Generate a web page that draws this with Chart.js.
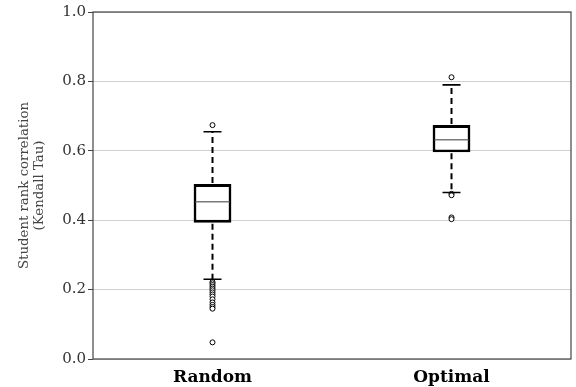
<!DOCTYPE html>
<html lang="en">
<head>
  <meta charset="UTF-8">
  <title>Kendall Tau box plot</title>
  <style>
    html, body { margin: 0; padding: 0; background: #fff; }
    #wrap { width: 576px; height: 387px; }
  </style>
</head>
<body>
<div id="wrap"><canvas id="boxChart" width="576" height="387"></canvas></div>
<script src="https://cdn.jsdelivr.net/npm/chart.js"></script>
<script>
  // data
  const categories = ['Random', 'Optimal'];
  const whiskerLow = [0.230, 0.480];
  const q1 = [0.393, 0.596];
  const median = [0.453, 0.632];
  const q3 = [0.504, 0.674];
  const whiskerHigh = [0.655, 0.790];
  const outliersRandom = [0.674, 0.222, 0.218, 0.213, 0.208, 0.203, 0.198, 0.192, 0.186, 0.180, 0.172, 0.163, 0.156, 0.150, 0.145, 0.048];
  const outliersOptimal = [0.812, 0.476, 0.472, 0.408, 0.403];
  const yTicks = [0.0, 0.2, 0.4, 0.6, 0.8, 1.0];

  const serif = "'DejaVu Serif', 'Liberation Serif', serif";

  const outlierPoints = [];
  outliersRandom.forEach(v => outlierPoints.push({ x: categories[0], y: v }));
  outliersOptimal.forEach(v => outlierPoints.push({ x: categories[1], y: v }));

  // whiskers, caps and medians drawn from the scales
  const boxExtras = {
    id: 'boxExtras',
    afterDatasetsDraw(chart) {
      const ctx = chart.ctx;
      const xs = chart.scales.x, ys = chart.scales.y;
      ctx.save();
      categories.forEach((c, i) => {
        const x = xs.getPixelForValue(i);
        const capHalf = 9;
        const bar = chart.getDatasetMeta(0).data[i];
        ctx.strokeStyle = '#000';
        ctx.lineWidth = 2;
        ctx.setLineDash([6, 4]);
        ctx.beginPath();
        ctx.moveTo(x, bar.y - 1);
        ctx.lineTo(x, ys.getPixelForValue(whiskerHigh[i]));
        ctx.moveTo(x, bar.base + 1);
        ctx.lineTo(x, ys.getPixelForValue(whiskerLow[i]));
        ctx.stroke();
        ctx.setLineDash([]);
        ctx.lineWidth = 1.6;
        ctx.beginPath();
        [whiskerHigh[i], whiskerLow[i]].forEach(v => {
          const y = ys.getPixelForValue(v);
          ctx.moveTo(x - capHalf, y);
          ctx.lineTo(x + capHalf, y);
        });
        ctx.stroke();
        const yMed = ys.getPixelForValue(median[i]);
        ctx.strokeStyle = '#7a7a7a';
        ctx.lineWidth = 1.5;
        ctx.beginPath();
        ctx.moveTo(bar.x - bar.width / 2 + 2, yMed);
        ctx.lineTo(bar.x + bar.width / 2 - 2, yMed);
        ctx.stroke();
      });
      ctx.restore();
    }
  };

  // frame around the plot area
  const frame = {
    id: 'frame',
    afterDraw(chart) {
      const a = chart.chartArea, ctx = chart.ctx;
      ctx.save();
      ctx.strokeStyle = '#444';
      ctx.lineWidth = 1.2;
      ctx.strokeRect(a.left, a.top, a.right - a.left, a.bottom - a.top);
      ctx.restore();
    }
  };

  const ctx = document.getElementById('boxChart').getContext('2d');
  new Chart(ctx, {
    data: {
      labels: categories,
      datasets: [{
        type: 'bar',
        label: 'box',
        data: categories.map((c, i) => [q1[i], q3[i]]),
        backgroundColor: '#fff',
        borderColor: '#000',
        borderWidth: 2.8,
        borderSkipped: false,
        barPercentage: 0.158,
        categoryPercentage: 1,
        order: 2
      }, {
        type: 'scatter',
        label: 'outliers',
        data: outlierPoints,
        pointRadius: 2.5,
        pointBackgroundColor: '#fff',
        pointBorderColor: '#000',
        pointBorderWidth: 1,
        showLine: false,
        order: 0
      }]
    },
    options: {
      responsive: false,
      animation: false,
      layout: { padding: { top: 12, right: 4, left: 17, bottom: 0 } },
      plugins: {
        legend: { display: false },
        tooltip: { enabled: false }
      },
      scales: {
        x: {
          type: 'category',
          offset: true,
          grid: { display: false },
          border: { display: false },
          ticks: {
            color: '#000',
            font: { family: serif, size: 17, weight: 'bold' },
            padding: 0
          },
          afterFit(scale) { scale.height = 28; }
        },
        y: {
          min: 0,
          max: 1,
          afterBuildTicks(scale) { scale.ticks = yTicks.map(v => ({ value: v })); },
          grid: { color: '#d0d0d0', lineWidth: 1, tickLength: 5, tickColor: '#444' },
          border: { display: false },
          ticks: {
            color: '#333',
            font: { family: serif, size: 15 },
            padding: 2,
            callback: v => v.toFixed(1)
          },
          title: {
            display: true,
            text: ['Student rank correlation', '(Kendall Tau)'],
            color: '#444',
            font: { family: serif, size: 13.3, lineHeight: 1.15 },
            padding: { top: 0, bottom: 8 }
          },
          afterFit(scale) { scale.width = 76; }
        }
      }
    },
    plugins: [boxExtras, frame]
  });
</script>
</body>
</html>
